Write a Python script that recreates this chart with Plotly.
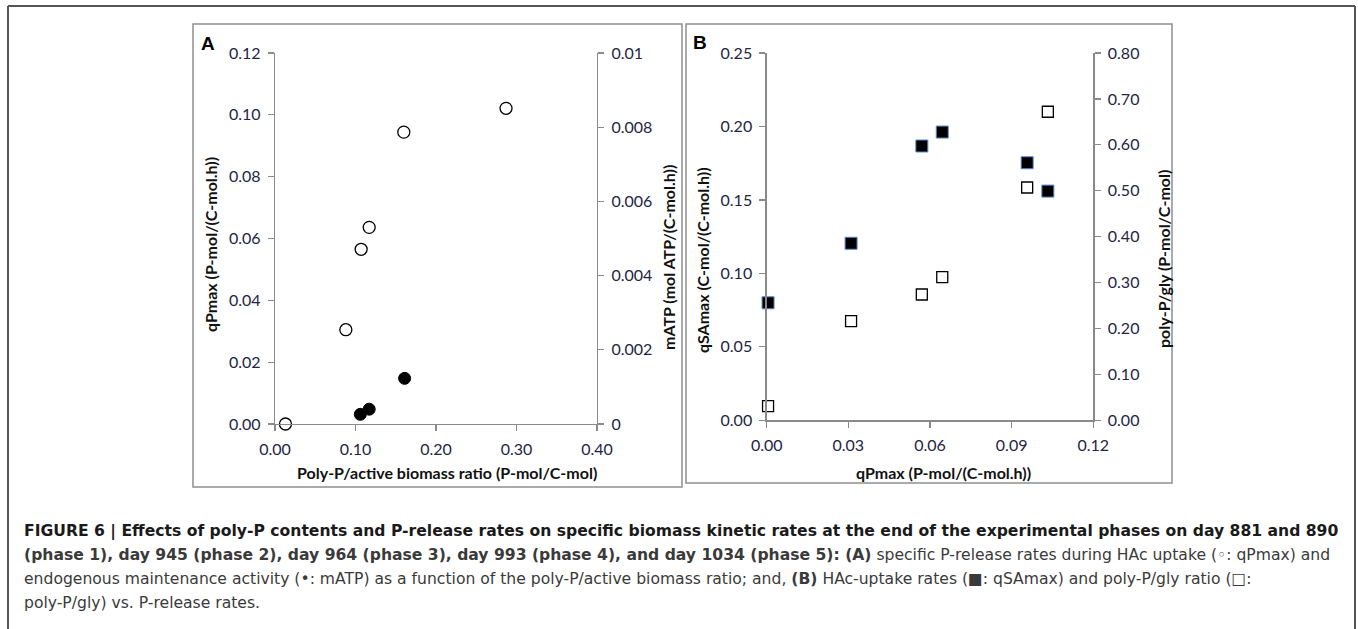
import plotly.graph_objects as go

# ---------------- data ----------------
# Panel A
ratio_q = [0.013, 0.088, 0.107, 0.117, 0.160, 0.287]
qPmax_A = [0.000, 0.0305, 0.0565, 0.0636, 0.0944, 0.1021]
ratio_m = [0.106, 0.117, 0.161]
mATP = [0.00026, 0.00040, 0.00123]
# Panel B
qPmax_B = [0.0005, 0.031, 0.057, 0.0645, 0.0957, 0.1033]
qSAmax = [0.080, 0.1205, 0.1867, 0.1962, 0.1753, 0.156]
polyP_gly = [0.031, 0.216, 0.274, 0.312, 0.507, 0.672]

# tick labels
A_x_ticks = [0.0, 0.1, 0.2, 0.3, 0.4]
A_x_labels = ["0.00", "0.10", "0.20", "0.30", "0.40"]
A_yl_ticks = [0.0, 0.02, 0.04, 0.06, 0.08, 0.10, 0.12]
A_yl_labels = ["0.00", "0.02", "0.04", "0.06", "0.08", "0.10", "0.12"]
A_yr_ticks = [0.0, 0.002, 0.004, 0.006, 0.008, 0.01]
A_yr_labels = ["0", "0.002", "0.004", "0.006", "0.008", "0.01"]
B_x_ticks = [0.0, 0.03, 0.06, 0.09, 0.12]
B_x_labels = ["0.00", "0.03", "0.06", "0.09", "0.12"]
B_yl_ticks = [0.0, 0.05, 0.10, 0.15, 0.20, 0.25]
B_yl_labels = ["0.00", "0.05", "0.10", "0.15", "0.20", "0.25"]
B_yr_ticks = [0.0, 0.1, 0.2, 0.3, 0.4, 0.5, 0.6, 0.7, 0.8]
B_yr_labels = ["0.00", "0.10", "0.20", "0.30", "0.40", "0.50", "0.60", "0.70", "0.80"]

W, H = 1358, 629


def px(x):
    return x / W


def py(y):
    return 1 - y / H


fig = go.Figure()

# Panel A traces
fig.add_trace(go.Scatter(x=ratio_q, y=qPmax_A, mode="markers", xaxis="x", yaxis="y",
                         marker=dict(symbol="circle", size=12, color="white",
                                     line=dict(color="black", width=1.3)),
                         cliponaxis=False, showlegend=False, hoverinfo="skip"))
fig.add_trace(go.Scatter(x=ratio_m, y=mATP, mode="markers", xaxis="x", yaxis="y2",
                         marker=dict(symbol="circle", size=12, color="black",
                                     line=dict(color="black", width=1)),
                         cliponaxis=False, showlegend=False, hoverinfo="skip"))
# Panel B traces
fig.add_trace(go.Scatter(x=qPmax_B, y=qSAmax, mode="markers", xaxis="x2", yaxis="y3",
                         marker=dict(symbol="square", size=12, color="black",
                                     line=dict(color="#5b8bd0", width=1)),
                         cliponaxis=False, showlegend=False, hoverinfo="skip"))
fig.add_trace(go.Scatter(x=qPmax_B, y=polyP_gly, mode="markers", xaxis="x2", yaxis="y4",
                         marker=dict(symbol="square", size=11, color="white",
                                     line=dict(color="black", width=1.3)),
                         cliponaxis=False, showlegend=False, hoverinfo="skip"))

tickfont = dict(family="Lato, Open Sans, sans-serif", size=16, color="#232545")
axcol = "#8a8a8a"
common = dict(showgrid=False, zeroline=False, showline=True, linecolor=axcol, linewidth=1.3,
              ticks="outside", ticklen=6, tickcolor=axcol, tickwidth=1.3, tickfont=tickfont,
              automargin=False, ticklabelstandoff=4)

A_yd = [py(424), py(53)]
B_yd = [py(420.3), py(53)]

fig.update_layout(
    template="none",
    width=W, height=H, autosize=False,
    margin=dict(l=0, r=0, t=0, b=0, pad=0, autoexpand=False),
    paper_bgcolor="white", plot_bgcolor="white",
    xaxis=dict(domain=[px(275), px(597)], range=[0, 0.4], anchor="y",
               tickvals=A_x_ticks, ticktext=A_x_labels, **common),
    yaxis=dict(domain=A_yd, range=[0, 0.12], anchor="x",
               tickvals=A_yl_ticks, ticktext=A_yl_labels, **common),
    yaxis2=dict(domain=A_yd, range=[0, 0.01], anchor="x", overlaying="y", side="right",
                tickvals=A_yr_ticks, ticktext=A_yr_labels, **common),
    xaxis2=dict(domain=[px(766.7), px(1093.3)], range=[0, 0.12], anchor="y3",
                tickvals=B_x_ticks, ticktext=B_x_labels, **common),
    yaxis3=dict(domain=B_yd, range=[0, 0.25], anchor="x2",
                tickvals=B_yl_ticks, ticktext=B_yl_labels, **common),
    yaxis4=dict(domain=B_yd, range=[0, 0.8], anchor="x2", overlaying="y3", side="right",
                tickvals=B_yr_ticks, ticktext=B_yr_labels, **common),
)

# frames
shapes = []
framecol = "#555555"
shapes.append(dict(type="line", xref="paper", yref="paper", x0=px(8), x1=px(1355), y0=py(6), y1=py(6),
                   line=dict(color=framecol, width=2)))
shapes.append(dict(type="line", xref="paper", yref="paper", x0=px(8), x1=px(8), y0=py(6), y1=0,
                   line=dict(color=framecol, width=2)))
shapes.append(dict(type="line", xref="paper", yref="paper", x0=px(1355), x1=px(1355), y0=py(6), y1=0,
                   line=dict(color=framecol, width=2)))
boxcol = "#8f8f8f"
shapes.append(dict(type="rect", xref="paper", yref="paper", x0=px(193), x1=px(682), y0=py(487), y1=py(24),
                   line=dict(color=boxcol, width=1.5)))
shapes.append(dict(type="rect", xref="paper", yref="paper", x0=px(686), x1=px(1172), y0=py(483), y1=py(24),
                   line=dict(color=boxcol, width=1.5)))
fig.update_layout(shapes=shapes)

titlefont = dict(family="Lato, Open Sans, sans-serif", size=16, color="#111111")
ann = []


def add_text(text, x, y, font, angle=0, xanchor="center", yanchor="middle"):
    ann.append(dict(text=text, x=px(x), y=py(y), xref="paper", yref="paper", showarrow=False,
                    font=font, textangle=angle, xanchor=xanchor, yanchor=yanchor))


# axis titles
add_text("<b>Poly-P/active biomass ratio (P-mol/C-mol)</b>", 447, 472, titlefont)
add_text("<b>qPmax (P-mol/(C-mol.h))</b>", 210, 245, titlefont, angle=-90)
add_text("<b>mATP (mol ATP/(C-mol.h))</b>", 668, 258, titlefont, angle=-90)
add_text("<b>qPmax (P-mol/(C-mol.h))</b>", 943, 472, titlefont)
add_text("<b>qSAmax (C-mol/(C-mol.h))</b>", 702, 260, titlefont, angle=-90)
add_text("<b>poly-P/gly (P-mol/C-mol)</b>", 1163, 259, titlefont, angle=-90)

# panel letters
letterfont = dict(family="Liberation Sans, Arial, sans-serif", size=19, color="black")
add_text("<b>A</b>", 208, 43, letterfont)
add_text("<b>B</b>", 700, 42, letterfont)

# caption
capfont = dict(family="DejaVu Sans, sans-serif", size=15.6, color="#3a3a3a")
cap_lines = [
    "<b style='color:#1a1a1a'>FIGURE 6 | Effects of poly-P contents and P-release rates on specific biomass kinetic rates at the end of the experimental phases on day 881 and 890</b>",
    "<b>(phase 1), day 945 (phase 2), day 964 (phase 3), day 993 (phase 4), and day 1034 (phase 5): (A)</b> specific P-release rates during HAc uptake (\u25e6: qPmax) and",
    "endogenous maintenance activity (\u2022: mATP) as a function of the poly-P/active biomass ratio; and, <b>(B)</b> HAc-uptake rates (\u25a0: qSAmax) and poly-P/gly ratio (\u25a1:",
    "poly-P/gly) vs. P-release rates.",
]
for i, line in enumerate(cap_lines):
    add_text(line, 22, 531 + 24 * i, capfont, xanchor="left")

fig.update_layout(annotations=ann, hovermode=False)

fig.write_html(
    "out.html",
    config={"displayModeBar": False, "staticPlot": True},
    post_script="document.body.style.margin='0';document.body.style.overflow='hidden';",
)
